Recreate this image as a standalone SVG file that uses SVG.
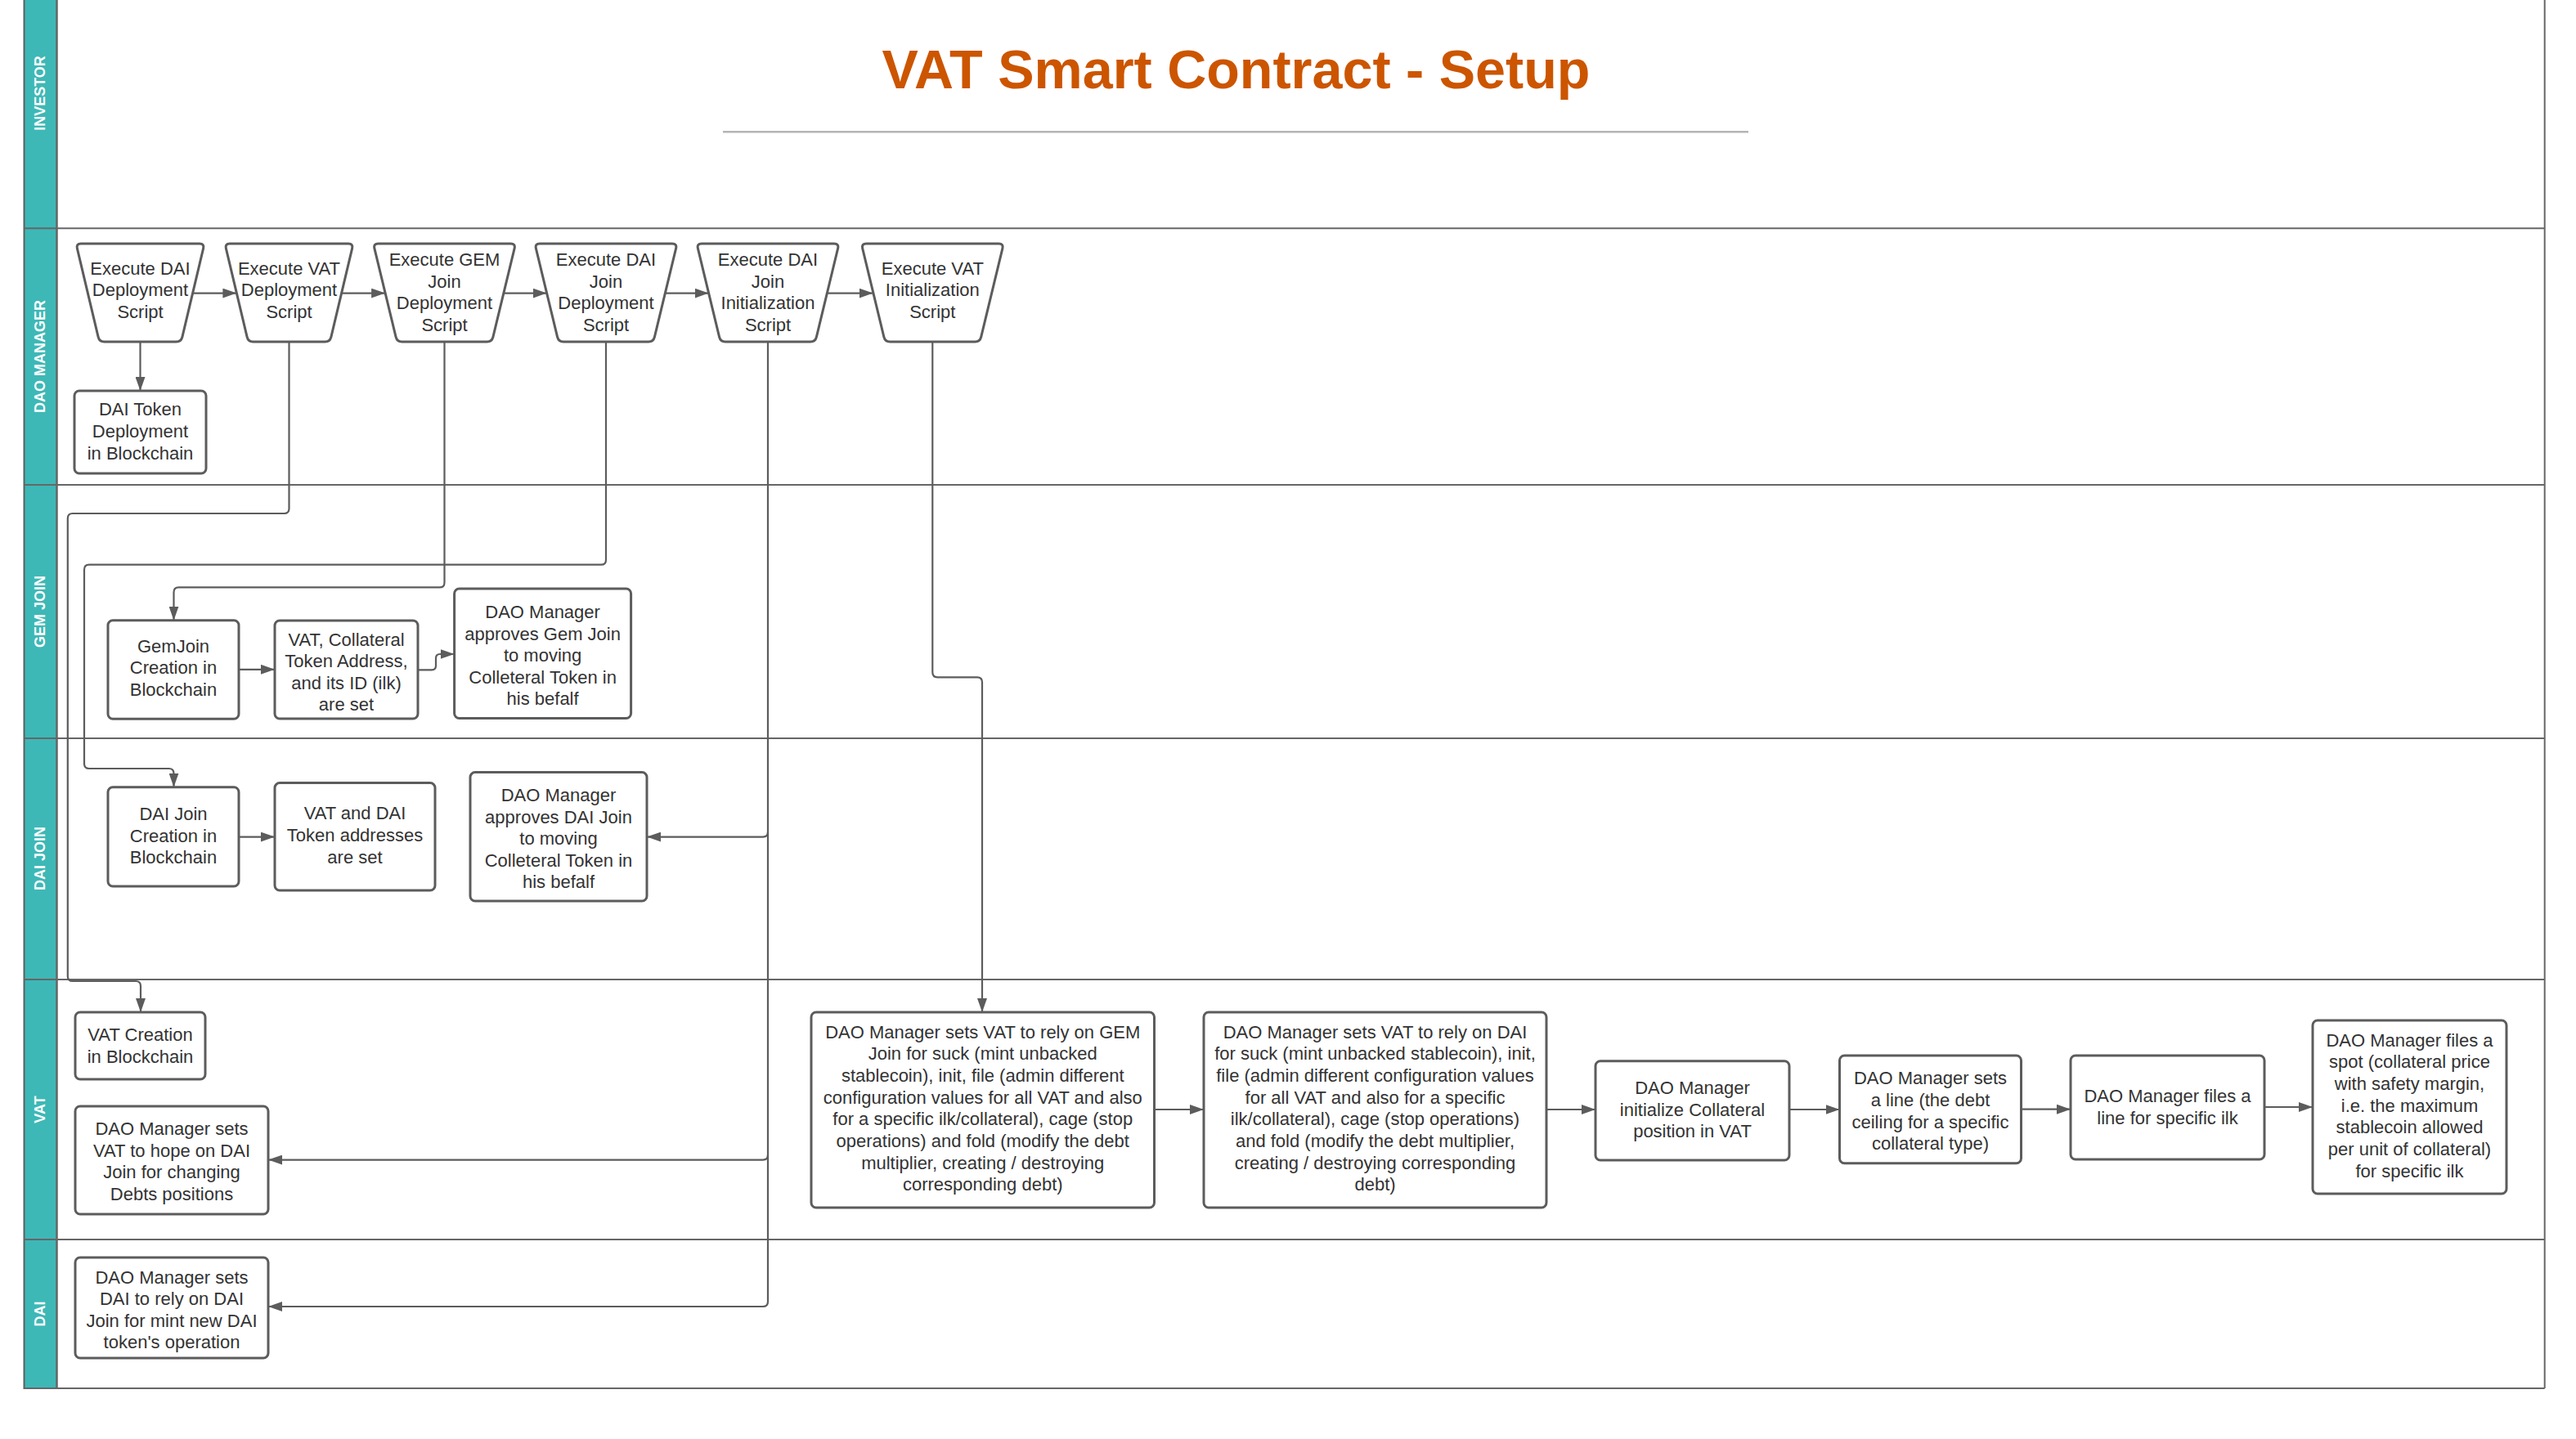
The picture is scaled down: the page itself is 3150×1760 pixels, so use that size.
<svg xmlns="http://www.w3.org/2000/svg" width="3150" height="1760" viewBox="0 0 3150 1760">
<style>
  .bg { fill: #ffffff; }
  .band { fill: #3DB8B6; stroke: #5f5f5f; stroke-width: 2; }
  .divider { stroke: #666666; stroke-width: 2; fill: none; }
  .lane-label { font-family: "Liberation Sans", Arial, sans-serif; font-size: 18px; font-weight: bold; fill: #ffffff; text-anchor: middle; }
  .title { font-family: "Liberation Sans", Arial, sans-serif; font-size: 66.5px; font-weight: bold; fill: #CC5500; text-anchor: middle; }
  .rule { stroke: #b5b5b5; stroke-width: 2.5; }
  .node { fill: #ffffff; stroke: #5c5c5c; stroke-width: 3; stroke-linejoin: round; }
  .txt { font-family: "Liberation Sans", Arial, sans-serif; font-size: 22px; fill: #333333; text-anchor: middle; }
  .conn { fill: none; stroke: #5c5c5c; stroke-width: 2.2; stroke-linejoin: round; }
</style>
<defs>
  <marker id="arrow" markerUnits="userSpaceOnUse" markerWidth="18" markerHeight="12" refX="17" refY="6" orient="auto">
    <path d="M0,0 L17,6 L0,12 Z" fill="#5c5c5c"/>
  </marker>
  <path id="trapS" d="M -72.5,0 L 72.5,0 Q 78.5,0 77.11,5.84 L 51.39,114.16 Q 50,120 44,120 L -44,120 Q -50,120 -51.39,114.16 L -77.11,5.84 Q -78.5,0 -72.5,0 Z"/>
  <path id="trapL" d="M -81,0 L 81,0 Q 87,0 85.59,5.83 L 59.41,114.17 Q 58,120 52,120 L -52,120 Q -58,120 -59.41,114.17 L -85.59,5.83 Q -87,0 -81,0 Z"/>
</defs>

<rect class="bg" x="0" y="0" width="3150" height="1760"/>

<!-- Swimlanes -->
<g id="swimlanes">
  <rect class="band" x="29.5" y="-2" width="40" height="1700"/>
  <line class="divider" x1="69.5" y1="0" x2="69.5" y2="1698"/>
  <line class="divider" x1="3111.7" y1="0" x2="3111.7" y2="1698"/>
  <line class="divider" x1="29.5" y1="279.3" x2="3111.7" y2="279.3"/>
  <line class="divider" x1="29.5" y1="593" x2="3111.7" y2="593"/>
  <line class="divider" x1="29.5" y1="903" x2="3111.7" y2="903"/>
  <line class="divider" x1="29.5" y1="1198" x2="3111.7" y2="1198"/>
  <line class="divider" x1="29.5" y1="1516" x2="3111.7" y2="1516"/>
  <line class="divider" x1="29.5" y1="1698" x2="3111.7" y2="1698"/>
  <text class="lane-label" transform="translate(55,114) rotate(-90)">INVESTOR</text>
  <text class="lane-label" transform="translate(55,436) rotate(-90)">DAO MANAGER</text>
  <text class="lane-label" transform="translate(55,748) rotate(-90)">GEM JOIN</text>
  <text class="lane-label" transform="translate(55,1050) rotate(-90)">DAI JOIN</text>
  <text class="lane-label" transform="translate(55,1357) rotate(-90)">VAT</text>
  <text class="lane-label" transform="translate(55,1607) rotate(-90)">DAI</text>
</g>

<!-- Title -->
<g id="title">
  <text class="title" x="1511.5" y="108.3">VAT Smart Contract - Setup</text>
  <line class="rule" x1="884" y1="161.3" x2="2138" y2="161.3"/>
</g>

<!-- Connectors -->
<g id="connectors">
  <!-- between scripts -->
  <line class="conn" x1="235.6" y1="358.6" x2="289.4" y2="358.6" marker-end="url(#arrow)"/>
  <line class="conn" x1="417.6" y1="358.6" x2="471.1" y2="358.6" marker-end="url(#arrow)"/>
  <line class="conn" x1="615.9" y1="358.6" x2="668.6" y2="358.6" marker-end="url(#arrow)"/>
  <line class="conn" x1="813.4" y1="358.6" x2="866.6" y2="358.6" marker-end="url(#arrow)"/>
  <line class="conn" x1="1011.4" y1="358.6" x2="1067.6" y2="358.6" marker-end="url(#arrow)"/>
  <!-- DAI deploy -> DAI token -->
  <line class="conn" x1="171.5" y1="419" x2="171.5" y2="478" marker-end="url(#arrow)"/>
  <!-- VAT deploy -> VAT creation -->
  <path class="conn" d="M 353.5,419 L 353.5,622 Q 353.5,628 347.5,628 L 88.8,628 Q 82.8,628 82.8,634 L 82.8,1194 Q 82.8,1200 88.8,1200 L 166,1200 Q 172,1200 172,1206 L 172,1238" marker-end="url(#arrow)"/>
  <!-- GEM join deploy -> GemJoin creation -->
  <path class="conn" d="M 543.5,419 L 543.5,712.4 Q 543.5,718.4 537.5,718.4 L 218.5,718.4 Q 212.5,718.4 212.5,724.4 L 212.5,758.7" marker-end="url(#arrow)"/>
  <!-- DAI join deploy -> DAI Join creation -->
  <path class="conn" d="M 741,419 L 741,684.7 Q 741,690.7 735,690.7 L 109,690.7 Q 103,690.7 103,696.7 L 103,934 Q 103,940 109,940 L 206.5,940 Q 212.5,940 212.5,946 L 212.5,962.7" marker-end="url(#arrow)"/>
  <!-- GemJoin -> VAT collateral -->
  <line class="conn" x1="292" y1="818.8" x2="336" y2="818.8" marker-end="url(#arrow)"/>
  <!-- VAT collateral -> approves Gem Join -->
  <path class="conn" d="M 511.5,819.3 L 528,819.3 Q 533,819.3 533,814.3 L 533,805 Q 533,800 538,800 L 555.6,800" marker-end="url(#arrow)"/>
  <!-- DAI Join -> VAT and DAI -->
  <line class="conn" x1="292" y1="1023.6" x2="336" y2="1023.6" marker-end="url(#arrow)"/>
  <!-- DAI join init -> DAI lane / approves / hope -->
  <path class="conn" d="M 939,419 L 939,1592 Q 939,1598 933,1598 L 328,1598" marker-end="url(#arrow)"/>
  <path class="conn" d="M 939,1017.6 Q 939,1023.6 933,1023.6 L 791,1023.6" marker-end="url(#arrow)"/>
  <path class="conn" d="M 939,1412.6 Q 939,1418.6 933,1418.6 L 328,1418.6" marker-end="url(#arrow)"/>
  <!-- VAT init -> rely on GEM -->
  <path class="conn" d="M 1140.3,419 L 1140.3,822.3 Q 1140.3,828.3 1146.3,828.3 L 1195,828.3 Q 1201,828.3 1201,834.3 L 1201,1238" marker-end="url(#arrow)"/>
  <!-- VAT lane chain -->
  <line class="conn" x1="1411.5" y1="1357" x2="1472" y2="1357" marker-end="url(#arrow)"/>
  <line class="conn" x1="1891" y1="1357" x2="1951" y2="1357" marker-end="url(#arrow)"/>
  <line class="conn" x1="2188" y1="1357" x2="2249.5" y2="1357" marker-end="url(#arrow)"/>
  <line class="conn" x1="2471.5" y1="1356.7" x2="2532" y2="1356.7" marker-end="url(#arrow)"/>
  <line class="conn" x1="2769" y1="1354" x2="2828" y2="1354" marker-end="url(#arrow)"/>
</g>

<!-- DAO MANAGER lane: scripts -->
<g id="exec-dai-deploy">
  <use href="#trapS" class="node" transform="translate(171.5,298)"/>
  <text class="txt"><tspan x="171.5" y="335.5">Execute DAI</tspan><tspan x="171.5" y="362.1">Deployment</tspan><tspan x="171.5" y="388.7">Script</tspan></text>
</g>
<g id="exec-vat-deploy">
  <use href="#trapS" class="node" transform="translate(353.5,298)"/>
  <text class="txt"><tspan x="353.5" y="335.5">Execute VAT</tspan><tspan x="353.5" y="362.1">Deployment</tspan><tspan x="353.5" y="388.7">Script</tspan></text>
</g>
<g id="exec-gem-join-deploy">
  <use href="#trapL" class="node" transform="translate(543.5,298)"/>
  <text class="txt"><tspan x="543.5" y="325">Execute GEM</tspan><tspan x="543.5" y="351.6">Join</tspan><tspan x="543.5" y="378.2">Deployment</tspan><tspan x="543.5" y="404.8">Script</tspan></text>
</g>
<g id="exec-dai-join-deploy">
  <use href="#trapL" class="node" transform="translate(741,298)"/>
  <text class="txt"><tspan x="741" y="325">Execute DAI</tspan><tspan x="741" y="351.6">Join</tspan><tspan x="741" y="378.2">Deployment</tspan><tspan x="741" y="404.8">Script</tspan></text>
</g>
<g id="exec-dai-join-init">
  <use href="#trapL" class="node" transform="translate(939,298)"/>
  <text class="txt"><tspan x="939" y="325">Execute DAI</tspan><tspan x="939" y="351.6">Join</tspan><tspan x="939" y="378.2">Initialization</tspan><tspan x="939" y="404.8">Script</tspan></text>
</g>
<g id="exec-vat-init">
  <use href="#trapL" class="node" transform="translate(1140.3,298)"/>
  <text class="txt"><tspan x="1140.3" y="335.5">Execute VAT</tspan><tspan x="1140.3" y="362.1">Initialization</tspan><tspan x="1140.3" y="388.7">Script</tspan></text>
</g>
<g id="dai-token-deployment">
  <rect class="node" x="91" y="478" width="161" height="101" rx="6"/>
  <text class="txt"><tspan x="171.5" y="508.3">DAI Token</tspan><tspan x="171.5" y="535">Deployment</tspan><tspan x="171.5" y="561.7">in Blockchain</tspan></text>
</g>

<!-- GEM JOIN lane -->
<g id="gemjoin-creation">
  <rect class="node" x="132" y="758.7" width="160" height="120.6" rx="6"/>
  <text class="txt"><tspan x="212" y="797.5">GemJoin</tspan><tspan x="212" y="824.1">Creation in</tspan><tspan x="212" y="850.7">Blockchain</tspan></text>
</g>
<g id="gem-vat-collateral-set">
  <rect class="node" x="336" y="759" width="175" height="120" rx="6"/>
  <text class="txt"><tspan x="423.5" y="789.5">VAT, Collateral</tspan><tspan x="423.5" y="816.1">Token Address,</tspan><tspan x="423.5" y="842.7">and its ID (ilk)</tspan><tspan x="423.5" y="869.3">are set</tspan></text>
</g>
<g id="approve-gem-join">
  <rect class="node" x="555.6" y="720" width="216" height="158.5" rx="6"/>
  <text class="txt"><tspan x="663.6" y="756">DAO Manager</tspan><tspan x="663.6" y="782.6">approves Gem Join</tspan><tspan x="663.6" y="809.2">to moving</tspan><tspan x="663.6" y="835.8">Colleteral Token in</tspan><tspan x="663.6" y="862.4">his befalf</tspan></text>
</g>

<!-- DAI JOIN lane -->
<g id="daijoin-creation">
  <rect class="node" x="132" y="962.7" width="160" height="121.3" rx="6"/>
  <text class="txt"><tspan x="212" y="1003">DAI Join</tspan><tspan x="212" y="1029.6">Creation in</tspan><tspan x="212" y="1056.2">Blockchain</tspan></text>
</g>
<g id="dai-vat-addresses-set">
  <rect class="node" x="336" y="957.6" width="196" height="131.4" rx="6"/>
  <text class="txt"><tspan x="434" y="1002.3">VAT and DAI</tspan><tspan x="434" y="1028.9">Token addresses</tspan><tspan x="434" y="1055.5">are set</tspan></text>
</g>
<g id="approve-dai-join">
  <rect class="node" x="575" y="944.6" width="216" height="157.4" rx="6"/>
  <text class="txt"><tspan x="683" y="980">DAO Manager</tspan><tspan x="683" y="1006.6">approves DAI Join</tspan><tspan x="683" y="1033.2">to moving</tspan><tspan x="683" y="1059.8">Colleteral Token in</tspan><tspan x="683" y="1086.4">his befalf</tspan></text>
</g>

<!-- VAT lane -->
<g id="vat-creation">
  <rect class="node" x="92" y="1238" width="159" height="82" rx="6"/>
  <text class="txt"><tspan x="171.5" y="1273">VAT Creation</tspan><tspan x="171.5" y="1299.6">in Blockchain</tspan></text>
</g>
<g id="vat-hope-dai-join">
  <rect class="node" x="92" y="1353" width="236" height="132" rx="6"/>
  <text class="txt"><tspan x="210" y="1388">DAO Manager sets</tspan><tspan x="210" y="1414.6">VAT to hope on DAI</tspan><tspan x="210" y="1441.2">Join for changing</tspan><tspan x="210" y="1467.8">Debts positions</tspan></text>
</g>
<g id="vat-rely-gem-join">
  <rect class="node" x="992" y="1238" width="419.5" height="239" rx="6"/>
  <text class="txt"><tspan x="1201.75" y="1269.7">DAO Manager sets VAT to rely on GEM</tspan><tspan x="1201.75" y="1296.4">Join for suck (mint unbacked</tspan><tspan x="1201.75" y="1323">stablecoin), init, file (admin different</tspan><tspan x="1201.75" y="1349.7">configuration values for all VAT and also</tspan><tspan x="1201.75" y="1376.4">for a specific ilk/collateral), cage (stop</tspan><tspan x="1201.75" y="1403">operations) and fold (modify the debt</tspan><tspan x="1201.75" y="1429.7">multiplier, creating / destroying</tspan><tspan x="1201.75" y="1456.4">corresponding debt)</tspan></text>
</g>
<g id="vat-rely-dai">
  <rect class="node" x="1472" y="1238" width="419" height="239" rx="6"/>
  <text class="txt"><tspan x="1681.5" y="1269.7">DAO Manager sets VAT to rely on DAI</tspan><tspan x="1681.5" y="1296.4">for suck (mint unbacked stablecoin), init,</tspan><tspan x="1681.5" y="1323">file (admin different configuration values</tspan><tspan x="1681.5" y="1349.7">for all VAT and also for a specific</tspan><tspan x="1681.5" y="1376.4">ilk/collateral), cage (stop operations)</tspan><tspan x="1681.5" y="1403">and fold (modify the debt multiplier,</tspan><tspan x="1681.5" y="1429.7">creating / destroying corresponding</tspan><tspan x="1681.5" y="1456.4">debt)</tspan></text>
</g>
<g id="init-collateral">
  <rect class="node" x="1951" y="1297.7" width="237" height="121.3" rx="6"/>
  <text class="txt"><tspan x="2069.5" y="1338">DAO Manager</tspan><tspan x="2069.5" y="1364.6">initialize Collateral</tspan><tspan x="2069.5" y="1391.2">position in VAT</tspan></text>
</g>
<g id="sets-line">
  <rect class="node" x="2249.5" y="1291" width="222" height="131.7" rx="6"/>
  <text class="txt"><tspan x="2360.5" y="1326.3">DAO Manager sets</tspan><tspan x="2360.5" y="1353">a line (the debt</tspan><tspan x="2360.5" y="1379.7">ceiling for a specific</tspan><tspan x="2360.5" y="1406.3">collateral type)</tspan></text>
</g>
<g id="files-line">
  <rect class="node" x="2532" y="1291" width="237" height="127" rx="6"/>
  <text class="txt"><tspan x="2650.5" y="1348">DAO Manager files a</tspan><tspan x="2650.5" y="1374.7">line for specific ilk</tspan></text>
</g>
<g id="files-spot">
  <rect class="node" x="2828" y="1248" width="237" height="212" rx="6"/>
  <text class="txt"><tspan x="2946.5" y="1279.7">DAO Manager files a</tspan><tspan x="2946.5" y="1306.4">spot (collateral price</tspan><tspan x="2946.5" y="1333">with safety margin,</tspan><tspan x="2946.5" y="1359.7">i.e. the maximum</tspan><tspan x="2946.5" y="1386.4">stablecoin allowed</tspan><tspan x="2946.5" y="1413">per unit of collateral)</tspan><tspan x="2946.5" y="1439.7">for specific ilk</tspan></text>
</g>

<!-- DAI lane -->
<g id="dai-rely-dai-join">
  <rect class="node" x="92" y="1538" width="236" height="123" rx="6"/>
  <text class="txt"><tspan x="210" y="1569.5">DAO Manager sets</tspan><tspan x="210" y="1596.1">DAI to rely on DAI</tspan><tspan x="210" y="1622.7">Join for mint new DAI</tspan><tspan x="210" y="1649.3">token's operation</tspan></text>
</g>
</svg>
